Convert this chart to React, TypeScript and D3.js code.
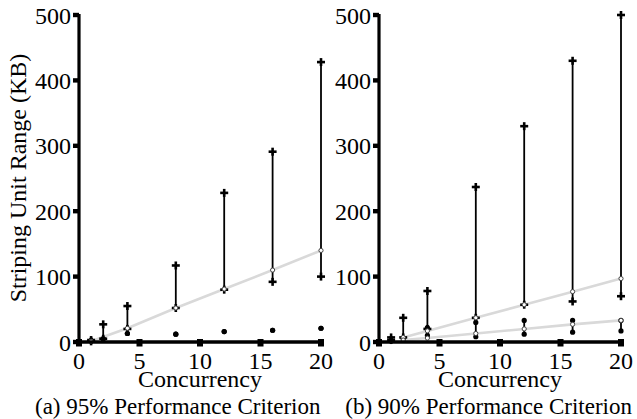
import * as d3 from "d3";

// concurrency levels measured
const concurrency = [1, 2, 4, 8, 12, 16, 20];

// (a) 95% criterion: range of good striping units (+ markers)
const hiA = [3, 27, 55, 117, 228, 291, 428];
const loA = [1, 5, 20, 52, 80, 92, 100];
// small dot series
const dotHiA = [2, 5, 13, 12, 16, 18, 21];
const dotLoA = [2, 5, 13, 12, 16, 18, 21];
// gray fit line
const fitXA = [1, 4, 8, 12, 16, 20];
const fitA = [1, 21, 52, 81, 110, 140];

// (b) 90% criterion
const hiB = [7, 37, 78, 237, 330, 430, 500];
const loB = [3, 7, 20, 37, 57, 62, 70];
const dotHiB = [2, 6, 22, 30, 33, 33, 33];
const dotLoB = [2, 6, 10, 8, 12, 15, 17];
const fitXB = [2, 4, 8, 12, 16, 20];
const fitB1 = [7, 17, 37, 57, 77, 97];
const fitB2 = [3, 6, 13, 20, 27, 33];

const xTicks = [0, 5, 10, 15, 20];
const yTicks = [0, 100, 200, 300, 400, 500];

type PanelProps = {
  x0: number;
  x1: number;
  hi: number[];
  lo: number[];
  dotHi: number[];
  dotLo: number[];
  fitX: number[];
  fits: number[][];
};

function Panel({ x0, x1, hi, lo, dotHi, dotLo, fitX, fits }: PanelProps) {
  const x = d3.scaleLinear().domain([0, 20]).range([x0, x1]);
  const y = d3.scaleLinear().domain([0, 500]).range([342, 15]);
  const line = d3
    .line<[number, number]>()
    .x(d => x(d[0]))
    .y(d => y(d[1]));

  const plus = (cx: number, cy: number, k: string) => (
    <g key={k} stroke="#000" strokeWidth={2.6}>
      <line x1={cx - 4} x2={cx + 4} y1={cy} y2={cy} />
      <line x1={cx} x2={cx} y1={cy - 4} y2={cy + 4} />
    </g>
  );

  return (
    <g>
      {/* gray fit lines */}
      {fits.map((f, i) => (
        <path
          key={"fit" + i}
          d={line(fitX.map((v, j) => [v, f[j]]) as [number, number][]) || ""}
          fill="none"
          stroke="#d9d9d9"
          strokeWidth={2.6}
        />
      ))}
      {/* range bars */}
      {concurrency.map((c, i) => (
        <line key={"bar" + i} x1={x(c)} x2={x(c)} y1={y(hi[i])} y2={y(lo[i])} stroke="#000" strokeWidth={1.8} />
      ))}
      {concurrency.map((c, i) => (
        <line key={"dbar" + i} x1={x(c)} x2={x(c)} y1={y(dotHi[i])} y2={y(dotLo[i])} stroke="#000" strokeWidth={1.8} />
      ))}
      {concurrency.map((c, i) => plus(x(c), y(hi[i]), "ph" + i))}
      {concurrency.map((c, i) => plus(x(c), y(lo[i]), "pl" + i))}
      {concurrency.map((c, i) => (
        <g key={"dot" + i}>
          <circle cx={x(c)} cy={y(dotHi[i])} r={2.6} fill="#000" />
          <circle cx={x(c)} cy={y(dotLo[i])} r={2.6} fill="#000" />
        </g>
      ))}
      {/* open markers on fit lines */}
      {fits.map((f, i) =>
        fitX.map((v, j) => (
          <circle key={"om" + i + "-" + j} cx={x(v)} cy={y(f[j])} r={2.1} fill="#fff" stroke="#444" strokeWidth={1} />
        ))
      )}
      {/* axes */}
      <line x1={x(0)} x2={x(0)} y1={y(500) - 1} y2={y(0)} stroke="#000" strokeWidth={3.2} />
      <line x1={x(0)} x2={x(20)} y1={y(0)} y2={y(0)} stroke="#000" strokeWidth={3.4} />
      {yTicks.map(t => (
        <g key={"yt" + t}>
          <rect x={x(0) - 6} y={y(t) - 2.2} width={6} height={4.4} fill="#000" />
          <text x={x(0) - 8} y={y(t) + 8.5} textAnchor="end" fontSize={24}>
            {t}
          </text>
        </g>
      ))}
      {xTicks.map(t => (
        <g key={"xt" + t}>
          <rect x={x(t) - 3} y={y(0) - 3} width={6} height={7.5} fill="#000" />
          <text x={x(t)} y={369} textAnchor="middle" fontSize={24}>
            {t}
          </text>
        </g>
      ))}
      <text x={(x0 + x1) / 2} y={387} textAnchor="middle" fontSize={24}>
        Concurrency
      </text>
    </g>
  );
}

export default function App() {
  return (
    <svg
      width={637}
      height={419}
      fontFamily="Liberation Serif"
      style={{ position: "absolute", left: 0, top: 0, fontFamily: "Liberation Serif" }}
    >
      <rect width={637} height={419} fill="#fff" />
      <Panel x0={79} x1={321} hi={hiA} lo={loA} dotHi={dotHiA} dotLo={dotLoA} fitX={fitXA} fits={[fitA]} />
      <Panel
        x0={379}
        x1={621}
        hi={hiB}
        lo={loB}
        dotHi={dotHiB}
        dotLo={dotLoB}
        fitX={fitXB}
        fits={[fitB1, fitB2]}
      />
      <text transform="translate(26,178) rotate(-90)" textAnchor="middle" fontSize={24}>
        Striping Unit Range (KB)
      </text>
      <text x={35} y={414} fontSize={23}>
        (a) 95% Performance Criterion
      </text>
      <text x={632} y={414} textAnchor="end" fontSize={23}>
        (b) 90% Performance Criterion
      </text>
    </svg>
  );
}
